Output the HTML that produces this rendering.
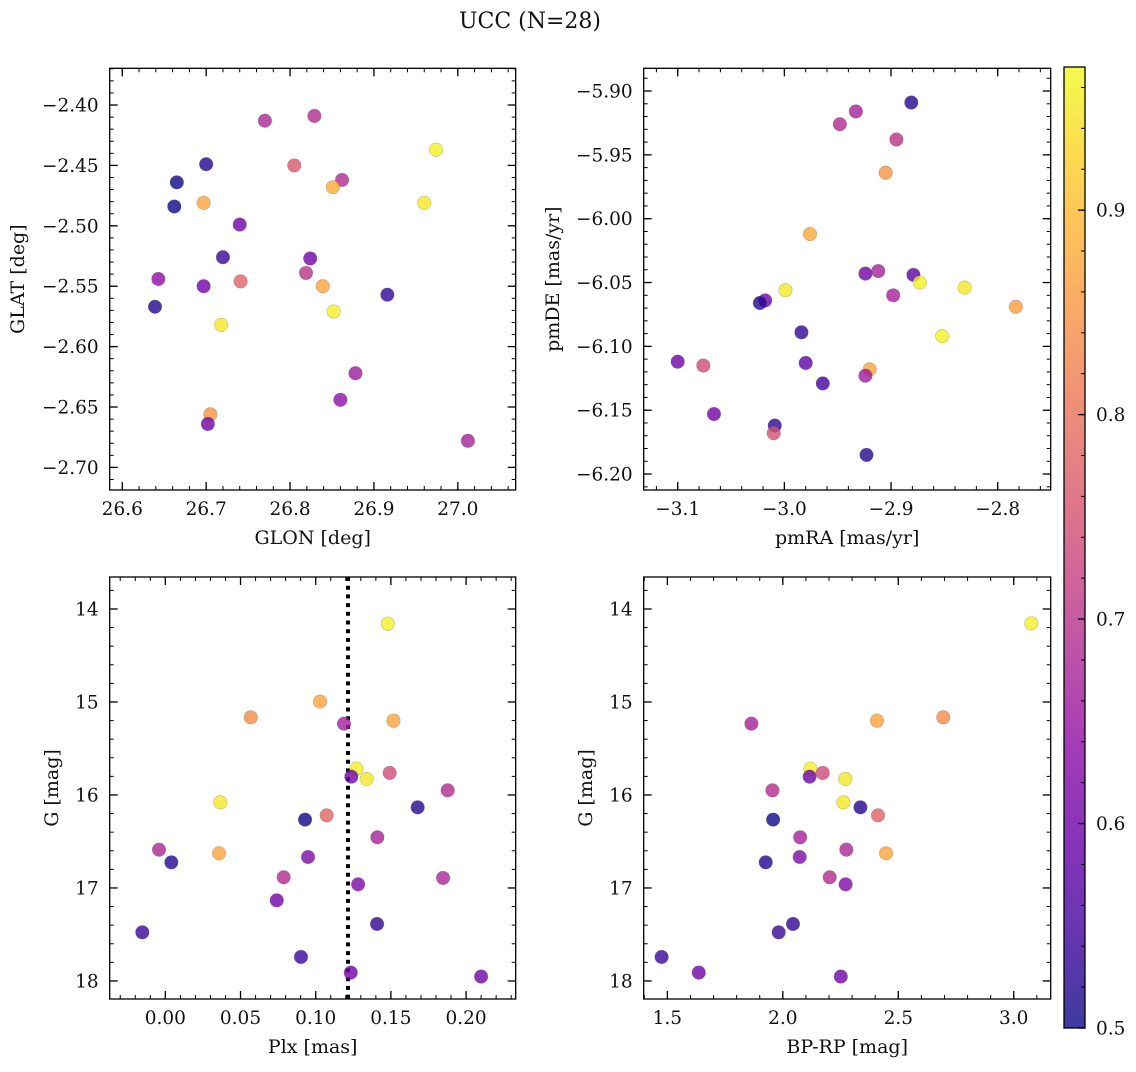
<!DOCTYPE html>
<html><head><meta charset="utf-8"><style>
html,body{margin:0;padding:0;background:#fff;}
svg text{font-family:"DejaVu Serif","Liberation Serif",serif;fill:#111;}
</style></head><body>
<svg id="fig" xmlns="http://www.w3.org/2000/svg" width="1136" height="1067" viewBox="0 0 1136 1067">
<text x="530" y="28" font-size="22" text-anchor="middle">UCC (N=28)</text>
</svg>
<script>
// ---- data (probability colour values) ----
const tlGlon=[26.770,26.829,26.974,26.700,26.805,26.665,26.862,26.851,26.697,26.662,26.960,26.740,26.720,26.824,26.819,26.643,26.697,26.741,26.839,26.639,26.916,26.852,26.718,26.878,26.860,26.705,26.702,27.012];
const tlGlat=[-2.413,-2.409,-2.437,-2.449,-2.450,-2.464,-2.462,-2.468,-2.481,-2.484,-2.481,-2.499,-2.526,-2.527,-2.539,-2.544,-2.550,-2.546,-2.550,-2.567,-2.557,-2.571,-2.582,-2.622,-2.644,-2.656,-2.664,-2.678];
const tlProb=[0.68,0.69,0.96,0.52,0.76,0.50,0.69,0.88,0.87,0.50,0.95,0.60,0.54,0.60,0.70,0.64,0.60,0.78,0.87,0.52,0.53,0.96,0.95,0.66,0.64,0.85,0.60,0.67];

const trPmra=[-2.881,-2.933,-2.948,-2.895,-2.905,-2.976,-2.924,-2.912,-2.879,-2.873,-2.831,-2.999,-2.898,-3.018,-3.023,-2.783,-2.984,-2.852,-3.100,-3.076,-2.980,-2.920,-2.924,-2.964,-3.066,-3.009,-3.010,-2.923];
const trPmde=[-5.909,-5.916,-5.926,-5.938,-5.964,-6.012,-6.043,-6.041,-6.044,-6.050,-6.054,-6.056,-6.060,-6.064,-6.066,-6.069,-6.089,-6.092,-6.112,-6.115,-6.113,-6.118,-6.123,-6.129,-6.153,-6.162,-6.168,-6.185];
const trProb=[0.52,0.67,0.69,0.70,0.85,0.88,0.60,0.67,0.58,0.96,0.95,0.95,0.67,0.60,0.52,0.86,0.53,0.96,0.60,0.74,0.58,0.87,0.66,0.55,0.60,0.53,0.75,0.52];

const blPlx=[0.1479,0.1029,0.0568,0.1188,0.1517,0.1271,0.1237,0.1339,0.1492,0.1878,0.0366,0.1678,0.1073,0.0929,0.1410,-0.0042,0.0357,0.0040,0.0949,0.0787,0.1847,0.1282,0.0741,0.1408,-0.0153,0.0902,0.1233,0.2100];
const blG=[14.158,14.996,15.165,15.233,15.201,15.717,15.803,15.828,15.763,15.950,16.079,16.133,16.219,16.265,16.455,16.588,16.627,16.724,16.667,16.885,16.892,16.961,17.133,17.387,17.477,17.742,17.910,17.953];
const blProb=[0.96,0.87,0.84,0.67,0.87,0.96,0.60,0.95,0.74,0.69,0.95,0.52,0.78,0.50,0.67,0.68,0.87,0.52,0.62,0.69,0.68,0.62,0.60,0.53,0.54,0.54,0.60,0.60];
const plxLine=[0.1215];

const brBprp=[3.076,1.864,2.408,2.695,2.119,2.116,2.173,2.271,1.955,2.262,2.336,2.412,1.958,2.075,2.275,2.447,1.926,2.073,2.203,2.272,2.044,1.982,1.475,1.636,2.251];
const brG=[14.154,15.233,15.201,15.165,15.717,15.803,15.763,15.828,15.950,16.079,16.133,16.219,16.265,16.455,16.588,16.627,16.724,16.667,16.885,16.961,17.387,17.477,17.742,17.910,17.953];
const brProb=[0.96,0.67,0.87,0.84,0.96,0.60,0.74,0.95,0.69,0.95,0.52,0.78,0.50,0.67,0.68,0.87,0.52,0.62,0.69,0.62,0.53,0.54,0.54,0.60,0.60];

const tlXTicks=[26.6,26.7,26.8,26.9,27.0];
const tlYTicks=[-2.40,-2.45,-2.50,-2.55,-2.60,-2.65,-2.70];
const trXTicks=[-3.1,-3.0,-2.9,-2.8];
const trYTicks=[-5.90,-5.95,-6.00,-6.05,-6.10,-6.15,-6.20];
const blXTicks=[0.00,0.05,0.10,0.15,0.20];
const gTicks=[14,15,16,17,18];
const brXTicks=[1.5,2.0,2.5,3.0];
const cbTicks=[0.5,0.6,0.7,0.8,0.9];

const svg=document.getElementById('fig');
const NS='http://www.w3.org/2000/svg';
const TF=18.5, LF=19;
function mk(tag,attrs,parent){const e=document.createElementNS(NS,tag);for(const k in attrs)e.setAttribute(k,attrs[k]);(parent||svg).appendChild(e);return e;}
const plasma=[[13,8,135],[65,4,157],[106,0,168],[143,13,164],[177,42,144],[204,71,120],[225,100,98],[242,132,75],[252,166,54],[252,206,37],[240,249,33]];
const VMIN=0.5,VMAX=0.97;
function cmap(v){let t=(v-VMIN)/(VMAX-VMIN);t=Math.max(0,Math.min(1,t));const p=t*10,i=Math.min(9,Math.floor(p)),f=p-i;const a=plasma[i],b=plasma[i+1];return 'rgb('+[0,1,2].map(k=>Math.round(a[k]+(b[k]-a[k])*f)).join(',')+')';}
function fmt(v,d){const s=Math.abs(v).toFixed(d);return (v<-1e-9?'\u2212':'')+s;}

function panel(o){
  const g=mk('g',{});
  
  
  const X=v=>o.x0+(v-o.xd[0])/(o.xd[1]-o.xd[0])*(o.x1-o.x0);
  const Y=o.yinv?(v=>o.y0+(v-o.yd[0])/(o.yd[1]-o.yd[0])*(o.y1-o.y0)):(v=>o.y1-(v-o.yd[0])/(o.yd[1]-o.yd[0])*(o.y1-o.y0));
  const eps=1e-9;
  for(let v=Math.ceil(o.xd[0]/o.xm-eps)*o.xm;v<=o.xd[1]+eps;v+=o.xm){const x=X(v);
    mk('line',{x1:x,x2:x,y1:o.y1,y2:o.y1-4,stroke:'#000','stroke-width':1},g);
    mk('line',{x1:x,x2:x,y1:o.y0,y2:o.y0+4,stroke:'#000','stroke-width':1},g);}
  const ylo=Math.min(o.yd[0],o.yd[1]),yhi=Math.max(o.yd[0],o.yd[1]);
  for(let v=Math.ceil(ylo/o.ym-eps)*o.ym;v<=yhi+eps;v+=o.ym){const y=Y(v);
    mk('line',{x1:o.x0,x2:o.x0+4,y1:y,y2:y,stroke:'#000','stroke-width':1},g);
    mk('line',{x1:o.x1,x2:o.x1-4,y1:y,y2:y,stroke:'#000','stroke-width':1},g);}
  o.xt.forEach(v=>{const x=X(v);
    mk('line',{x1:x,x2:x,y1:o.y1,y2:o.y1-8,stroke:'#000','stroke-width':1.3},g);
    mk('line',{x1:x,x2:x,y1:o.y0,y2:o.y0+8,stroke:'#000','stroke-width':1.3},g);
    const t=mk('text',{x:x,y:o.y1+25,'font-size':TF,'text-anchor':'middle'},g);t.textContent=fmt(v,o.xdp);
    
    });
  o.yt.forEach(v=>{const y=Y(v);
    mk('line',{x1:o.x0,x2:o.x0+8,y1:y,y2:y,stroke:'#000','stroke-width':1.3},g);
    mk('line',{x1:o.x1,x2:o.x1-8,y1:y,y2:y,stroke:'#000','stroke-width':1.3},g);
    const t=mk('text',{x:o.x0-11,y:y+6.5,'font-size':TF,'text-anchor':'end'},g);t.textContent=fmt(v,o.ydp);
    
    });
  if(o.vline){o.vline.forEach(v=>{const l=mk('line',{x1:X(v),x2:X(v),y1:o.y0,y2:o.y1,stroke:'#000','stroke-width':4,'stroke-dasharray':'4 4.7'},g);
    
    });}
  for(let i=0;i<o.xs.length;i++){const c=cmap(o.cs[i]);
    const p=mk('circle',{cx:X(o.xs[i]),cy:Y(o.ys[i]),r:6.8,fill:c,'fill-opacity':0.8,stroke:'#555','stroke-opacity':0.35,'stroke-width':0.6},g);
    
    }
  mk('rect',{x:o.x0,y:o.y0,width:o.x1-o.x0,height:o.y1-o.y0,fill:'none',stroke:'#000','stroke-width':1.3},g);
  const xl=mk('text',{x:(o.x0+o.x1)/2,y:o.y1+54,'font-size':LF,'text-anchor':'middle'},g);xl.textContent=o.xlabel;
  
  
  const cy=(o.y0+o.y1)/2;
  const yl=mk('text',{x:o.ylx,y:cy,'font-size':LF,'text-anchor':'middle',transform:'rotate(-90 '+o.ylx+' '+cy+')'},g);yl.textContent=o.ylabel;
  
  
}

panel({name:'glon-glat-panel',x0:109.7,x1:515.7,y0:68.3,y1:490,xd:[26.585,27.069],yd:[-2.7187,-2.3696],xt:tlXTicks,yt:tlYTicks,xm:0.02,ym:0.01,xdp:1,ydp:2,xs:tlGlon,ys:tlGlat,cs:tlProb,xlabel:'GLON [deg]',ylabel:'GLAT [deg]',ylx:24});
panel({name:'proper-motion-panel',x0:643.7,x1:1050.7,y0:68.3,y1:490,xd:[-3.1319,-2.7503],yd:[-6.2125,-5.8822],xt:trXTicks,yt:trYTicks,xm:0.02,ym:0.01,xdp:1,ydp:2,xs:trPmra,ys:trPmde,cs:trProb,xlabel:'pmRA [mas/yr]',ylabel:'pmDE [mas/yr]',ylx:559});
panel({name:'plx-g-panel',x0:109.7,x1:515.7,y0:577,y1:999,xd:[-0.037,0.233],yd:[13.656,18.194],yinv:true,xt:blXTicks,yt:gTicks,xm:0.01,ym:0.2,xdp:2,ydp:0,xs:blPlx,ys:blG,cs:blProb,vline:plxLine,xlabel:'Plx [mas]',ylabel:'G [mag]',ylx:58});
panel({name:'cmd-panel',x0:643.7,x1:1050.7,y0:577,y1:999,xd:[1.3975,3.160],yd:[13.656,18.194],yinv:true,xt:brXTicks,yt:gTicks,xm:0.1,ym:0.2,xdp:1,ydp:0,xs:brBprp,ys:brG,cs:brProb,xlabel:'BP-RP [mag]',ylabel:'G [mag]',ylx:592});

// colorbar
const cb=mk('g',{});


const cbx0=1064,cbx1=1085,cby0=67,cby1=1028;
const defs=mk('defs',{},cb);
const lg=mk('linearGradient',{id:'cbg',x1:0,y1:1,x2:0,y2:0},defs);
for(let i=0;i<=20;i++){const v=VMIN+(VMAX-VMIN)*i/20;mk('stop',{offset:(i/20),'stop-color':cmap(v),'stop-opacity':0.8},lg);}
mk('rect',{x:cbx0,y:cby0,width:cbx1-cbx0,height:cby1-cby0,fill:'url(#cbg)'},cb);
const CY=v=>cby1-(v-VMIN)/(VMAX-VMIN)*(cby1-cby0);
for(let v=0.52;v<VMAX;v+=0.02){const y=CY(v);mk('line',{x1:cbx1,x2:cbx1-4,y1:y,y2:y,stroke:'#000','stroke-width':1},cb);}
cbTicks.forEach(v=>{const y=CY(v);mk('line',{x1:cbx1,x2:cbx1-7,y1:y,y2:y,stroke:'#000','stroke-width':1.3},cb);
  const t=mk('text',{x:cbx1+11,y:y+6.5,'font-size':TF},cb);t.textContent=v.toFixed(1);
  
  });
mk('rect',{x:cbx0,y:cby0,width:cbx1-cbx0,height:cby1-cby0,fill:'none',stroke:'#000','stroke-width':1.3},cb);
</script>
</body></html>
